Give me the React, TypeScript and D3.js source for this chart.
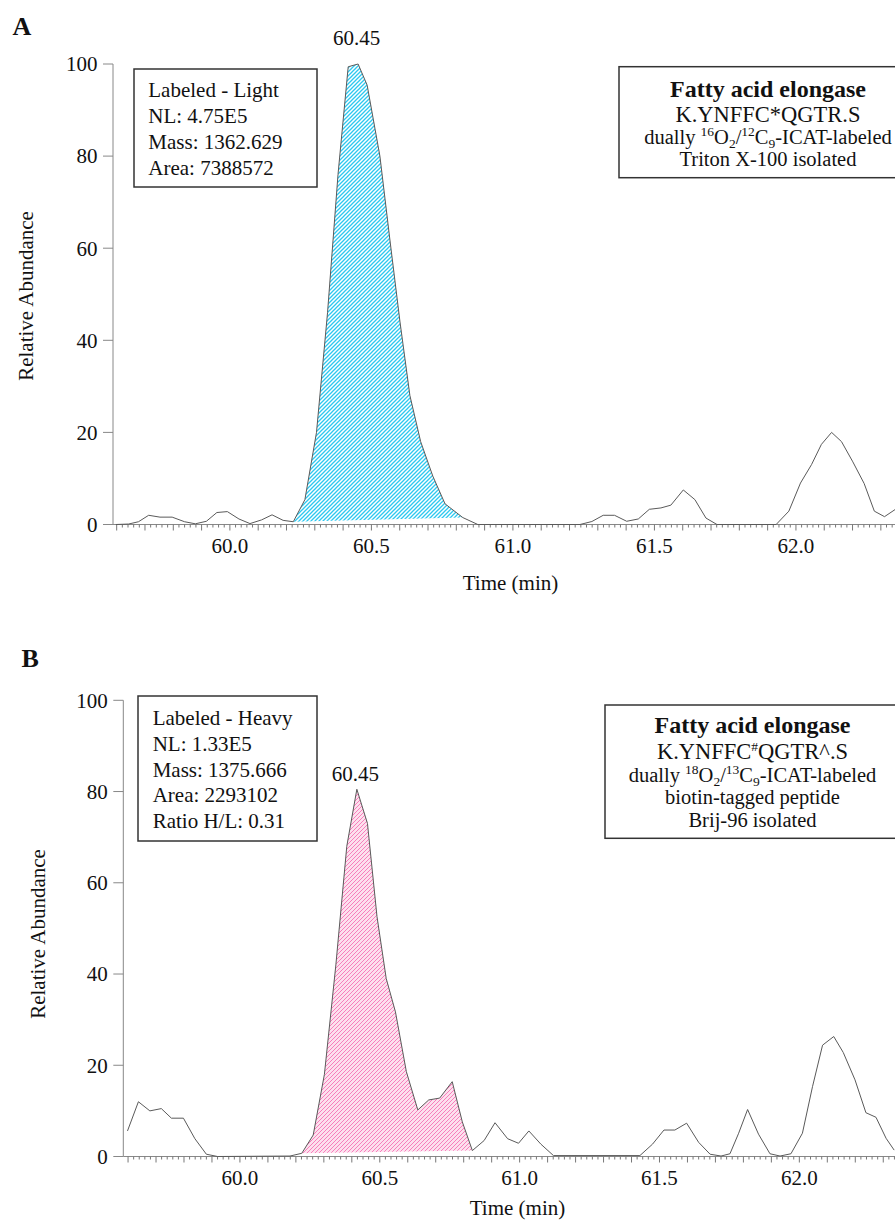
import React, { useEffect, useRef } from 'react';
import * as d3 from 'd3';

// panel A (light) trace
const timesA = [
    59.597, 59.642, 59.677, 59.713, 59.753, 59.796, 59.840, 59.878, 59.917, 59.954,
    59.991, 60.032, 60.071, 60.112, 60.149, 60.188, 60.224, 60.265, 60.306, 60.345,
    60.382, 60.418, 60.453, 60.485, 60.530, 60.565, 60.601, 60.636, 60.674, 60.717,
    60.760, 60.823, 60.876, 61.237, 61.279, 61.319, 61.359, 61.402, 61.443, 61.482,
    61.523, 61.558, 61.602, 61.643, 61.682, 61.721, 61.930, 61.975, 62.016, 62.055,
    62.090, 62.126, 62.161, 62.201, 62.241, 62.277, 62.313, 62.354
];
const abundA = [
    0, 0.1, 0.6, 2.0, 1.6, 1.6, 0.6, 0.15, 0.7, 2.6,
    2.8, 1.2, 0.2, 1.0, 2.1, 0.9, 0.6, 5.4, 20, 46,
    76, 99.4, 100, 95.4, 80, 62, 44, 28, 18, 10.5,
    4.5, 1.5, 0, 0, 0.65, 2.0, 2.0, 0.7, 1.2, 3.3,
    3.6, 4.2, 7.5, 5.4, 1.4, 0, 0, 2.9, 9.0, 13,
    17.4, 20, 18, 13.6, 8.9, 2.9, 1.7, 3.4
];

// panel B (heavy) trace
const timesB = [
    59.598, 59.637, 59.678, 59.719, 59.755, 59.798, 59.839, 59.880, 59.920, 60.179,
    60.221, 60.262, 60.302, 60.343, 60.382, 60.418, 60.456, 60.490, 60.523, 60.556,
    60.595, 60.636, 60.675, 60.714, 60.759, 60.795, 60.831, 60.873, 60.912, 60.957,
    60.996, 61.033, 61.076, 61.121, 61.430, 61.475, 61.516, 61.555, 61.597, 61.640,
    61.681, 61.720, 61.752, 61.783, 61.815, 61.854, 61.895, 61.931, 61.970, 62.011,
    62.047, 62.083, 62.123, 62.157, 62.199, 62.238, 62.274, 62.310, 62.339
];
const abundB = [
    5.6, 12.0, 10.0, 10.5, 8.4, 8.4, 3.9, 0.5, 0, 0.1,
    0.7, 4.7, 18, 42, 68, 80.5, 73, 52.6, 39, 31.7,
    18.6, 10.2, 12.4, 12.8, 16.4, 7.6, 1.3, 3.5, 7.4, 3.9,
    2.9, 5.6, 2.7, 0.2, 0.2, 2.7, 5.8, 5.8, 7.3, 3.1,
    0.5, 0.1, 0.6, 5.1, 10.3, 4.9, 0.6, 0.1, 0.6, 5.1,
    15.3, 24.4, 26.3, 22.8, 16.8, 9.6, 8.6, 4.0, 1.4
];

const peakWindowA = [60.224, 60.823];
const peakWindowB = [60.221, 60.831];

const yTicks = [0, 20, 40, 60, 80, 100];
const xTickLabels = ['60.0', '60.5', '61.0', '61.5', '62.0'];
const apexLabel = '60.45';

const infoA = ['Labeled - Light', 'NL: 4.75E5', 'Mass: 1362.629', 'Area: 7388572'];
const infoB = ['Labeled - Heavy', 'NL: 1.33E5', 'Mass: 1375.666', 'Area: 2293102', 'Ratio H/L: 0.31'];

// title lines: [text, kind] where kind sup / sub marks scripts
const titleA = [
    [['Fatty acid elongase', '']],
    [['K.YNFFC*QGTR.S', '']],
    [['dually ', ''], ['16', 'sup'], ['O', ''], ['2', 'sub'], ['/', ''], ['12', 'sup'], ['C', ''], ['9', 'sub'], ['-ICAT-labeled', '']],
    [['Triton X-100 isolated', '']]
];
const titleB = [
    [['Fatty acid elongase', '']],
    [['K.YNFFC', ''], ['#', 'sup'], ['QGTR^.S', '']],
    [['dually ', ''], ['18', 'sup'], ['O', ''], ['2', 'sub'], ['/', ''], ['13', 'sup'], ['C', ''], ['9', 'sub'], ['-ICAT-labeled', '']],
    [['biotin-tagged peptide', '']],
    [['Brij-96 isolated', '']]
];

const FONT = "'Liberation Serif', 'Times New Roman', serif";

const panels = [
    {
        letter: 'A', letterX: 12.5, letterY: 35,
        times: timesA, values: abundA, peak: peakWindowA,
        xDomain: [59.587, 62.35], xRange: [113, 895], yRange: [524.5, 64],
        fill: 'url(#hatchBlue)',
        labelOffset: 19,
        info: infoA, infoBox: { x: 134, y: 69, w: 183, h: 118 }, infoText: { x: 148.3, y: 96.7, step: 26 },
        title: titleA, titleBox: { x: 619, y: 66.7, w: 300, h: 111 }, titleCx: 768,
        titleY: [96.7, 121.7, 144.3, 166],
        yLabel: { x: 33, y: 296 }, xLabel: { x: 510.5, dy: 65 }
    },
    {
        letter: 'B', letterX: 21.5, letterY: 666.7,
        times: timesB, values: abundB, peak: peakWindowB,
        xDomain: [59.583, 62.342], xRange: [123.3, 895], yRange: [1156.5, 700.3],
        fill: 'url(#hatchPink)',
        labelOffset: 8,
        info: infoB, infoBox: { x: 138, y: 696, w: 179, h: 145 }, infoText: { x: 152.7, y: 725, step: 25.8 },
        title: titleB, titleBox: { x: 605, y: 705, w: 300, h: 133.3 }, titleCx: 752.5,
        titleY: [733.3, 759.3, 782.3, 804, 826.7],
        yLabel: { x: 45, y: 934 }, xLabel: { x: 517.5, dy: 58.5 }
    }
];

const Chromatograms = () => {
    const ref = useRef(null);

    useEffect(() => {
        const svg = d3.select(ref.current);
        svg.selectAll('*').remove();

        const defs = svg.append('defs');
        [
            ['hatchBlue', 'white', '#2cc8f0', 1.3],
            ['hatchPink', '#fde0ee', '#f77fbb', 1.0]
        ].forEach(([id, bg, col, sw]) => {
            const pat = defs.append('pattern')
                .attr('id', id)
                .attr('patternUnits', 'userSpaceOnUse')
                .attr('width', 4)
                .attr('height', 4);
            pat.append('rect').attr('width', 4).attr('height', 4).attr('fill', bg);
            pat.append('path')
                .attr('d', 'M-1,1 l2,-2 M0,4 l4,-4 M3,5 l2,-2')
                .attr('stroke', col)
                .attr('stroke-width', sw);
        });

        panels.forEach(p => {
            const g = svg.append('g');
            const x = d3.scaleLinear().domain(p.xDomain).range(p.xRange);
            const y = d3.scaleLinear().domain([0, 100]).range(p.yRange);
            const axisX = p.xRange[0];
            const y0 = y(0);

            const data = p.times.map((t, i) => ({ t, v: p.values[i] }));
            const peakPts = data.filter(d => d.t >= p.peak[0] - 1e-6 && d.t <= p.peak[1] + 1e-6);

            const line = d3.line().x(d => x(d.t)).y(d => y(d.v));

            // integrated peak area, closed by a straight baseline
            g.append('path')
                .attr('d', line(peakPts) + 'Z')
                .attr('fill', p.fill)
                .attr('stroke', 'none');

            // axes
            g.append('line')
                .attr('x1', axisX).attr('x2', 895)
                .attr('y1', y0).attr('y2', y0)
                .attr('stroke', '#888').attr('stroke-width', 1);
            g.append('line')
                .attr('x1', axisX).attr('x2', axisX)
                .attr('y1', y0).attr('y2', y(100))
                .attr('stroke', '#888').attr('stroke-width', 1);

            // x ticks every 0.02 min, longer every 0.1
            const tickIdx = d3.range(2980, 3120);
            g.selectAll('.xt')
                .data(tickIdx.filter(i => x(i / 50) >= axisX && x(i / 50) <= 895))
                .enter().append('line')
                .attr('x1', i => x(i / 50)).attr('x2', i => x(i / 50))
                .attr('y1', y0).attr('y2', i => y0 + (i % 5 === 0 ? 6 : 3))
                .attr('stroke', '#777').attr('stroke-width', 1);

            g.selectAll('.xl')
                .data(xTickLabels)
                .enter().append('text')
                .attr('x', d => x(+d))
                .attr('y', y0 + 28.5)
                .attr('text-anchor', 'middle')
                .attr('font-family', FONT)
                .attr('font-size', 21)
                .attr('fill', '#111')
                .text(d => d);

            g.selectAll('.yt')
                .data(yTicks)
                .enter().append('line')
                .attr('x1', axisX - 10).attr('x2', axisX)
                .attr('y1', d => y(d)).attr('y2', d => y(d))
                .attr('stroke', '#888').attr('stroke-width', 1);

            g.selectAll('.yl')
                .data(yTicks)
                .enter().append('text')
                .attr('x', axisX - 15.5)
                .attr('y', d => y(d))
                .attr('dy', '0.35em')
                .attr('text-anchor', 'end')
                .attr('font-family', FONT)
                .attr('font-size', 21)
                .attr('fill', '#111')
                .text(d => d);

            // trace
            g.append('path')
                .attr('d', line(data))
                .attr('fill', 'none')
                .attr('stroke', '#5a5a5a')
                .attr('stroke-width', 1)
                .attr('stroke-linejoin', 'round');

            // apex label
            const apex = data.reduce((a, b) => (b.v > a.v ? b : a));
            g.append('text')
                .attr('x', x(apex.t) - 1.5)
                .attr('y', y(apex.v) - p.labelOffset)
                .attr('text-anchor', 'middle')
                .attr('font-family', FONT)
                .attr('font-size', 21)
                .attr('fill', '#111')
                .text(apexLabel);

            // axis titles
            g.append('text')
                .attr('transform', `translate(${p.yLabel.x},${p.yLabel.y}) rotate(-90)`)
                .attr('text-anchor', 'middle')
                .attr('font-family', FONT)
                .attr('font-size', 21)
                .attr('fill', '#111')
                .text('Relative Abundance');
            g.append('text')
                .attr('x', p.xLabel.x)
                .attr('y', y0 + p.xLabel.dy)
                .attr('text-anchor', 'middle')
                .attr('font-family', FONT)
                .attr('font-size', 21)
                .attr('fill', '#111')
                .text('Time (min)');

            // panel letter
            g.append('text')
                .attr('x', p.letterX)
                .attr('y', p.letterY)
                .attr('font-family', FONT)
                .attr('font-weight', 'bold')
                .attr('font-size', 26)
                .attr('fill', '#111')
                .text(p.letter);

            // info box
            g.append('rect')
                .attr('x', p.infoBox.x).attr('y', p.infoBox.y)
                .attr('width', p.infoBox.w).attr('height', p.infoBox.h)
                .attr('fill', 'white').attr('stroke', '#333').attr('stroke-width', 1.5);
            g.selectAll('.info')
                .data(p.info)
                .enter().append('text')
                .attr('x', p.infoText.x)
                .attr('y', (d, i) => p.infoText.y + i * p.infoText.step)
                .attr('font-family', FONT)
                .attr('font-size', 21)
                .attr('fill', '#111')
                .text(d => d);

            // title box
            g.append('rect')
                .attr('x', p.titleBox.x).attr('y', p.titleBox.y)
                .attr('width', p.titleBox.w).attr('height', p.titleBox.h)
                .attr('fill', 'white').attr('stroke', '#333').attr('stroke-width', 1.5);
            p.title.forEach((segs, li) => {
                const size = li === 0 ? 24 : li === 1 ? 22.5 : 20.5;
                const t = g.append('text')
                    .attr('x', p.titleCx)
                    .attr('y', p.titleY[li])
                    .attr('text-anchor', 'middle')
                    .attr('font-family', FONT)
                    .attr('font-weight', li === 0 ? 'bold' : 'normal')
                    .attr('font-size', size)
                    .attr('fill', '#111');
                let shift = 0;
                segs.forEach(([txt, kind]) => {
                    const target = kind === 'sup' ? -8 : kind === 'sub' ? 4 : 0;
                    t.append('tspan')
                        .attr('dy', target - shift)
                        .attr('font-size', kind ? 13.5 : size)
                        .text(txt);
                    shift = target;
                });
            });
        });
    }, []);

    return (
        <svg
            ref={ref}
            width={895}
            height={1222}
            style={{ position: 'absolute', left: 0, top: 0, background: 'white' }}
        />
    );
};

export default function App() {
    return <Chromatograms />;
}
